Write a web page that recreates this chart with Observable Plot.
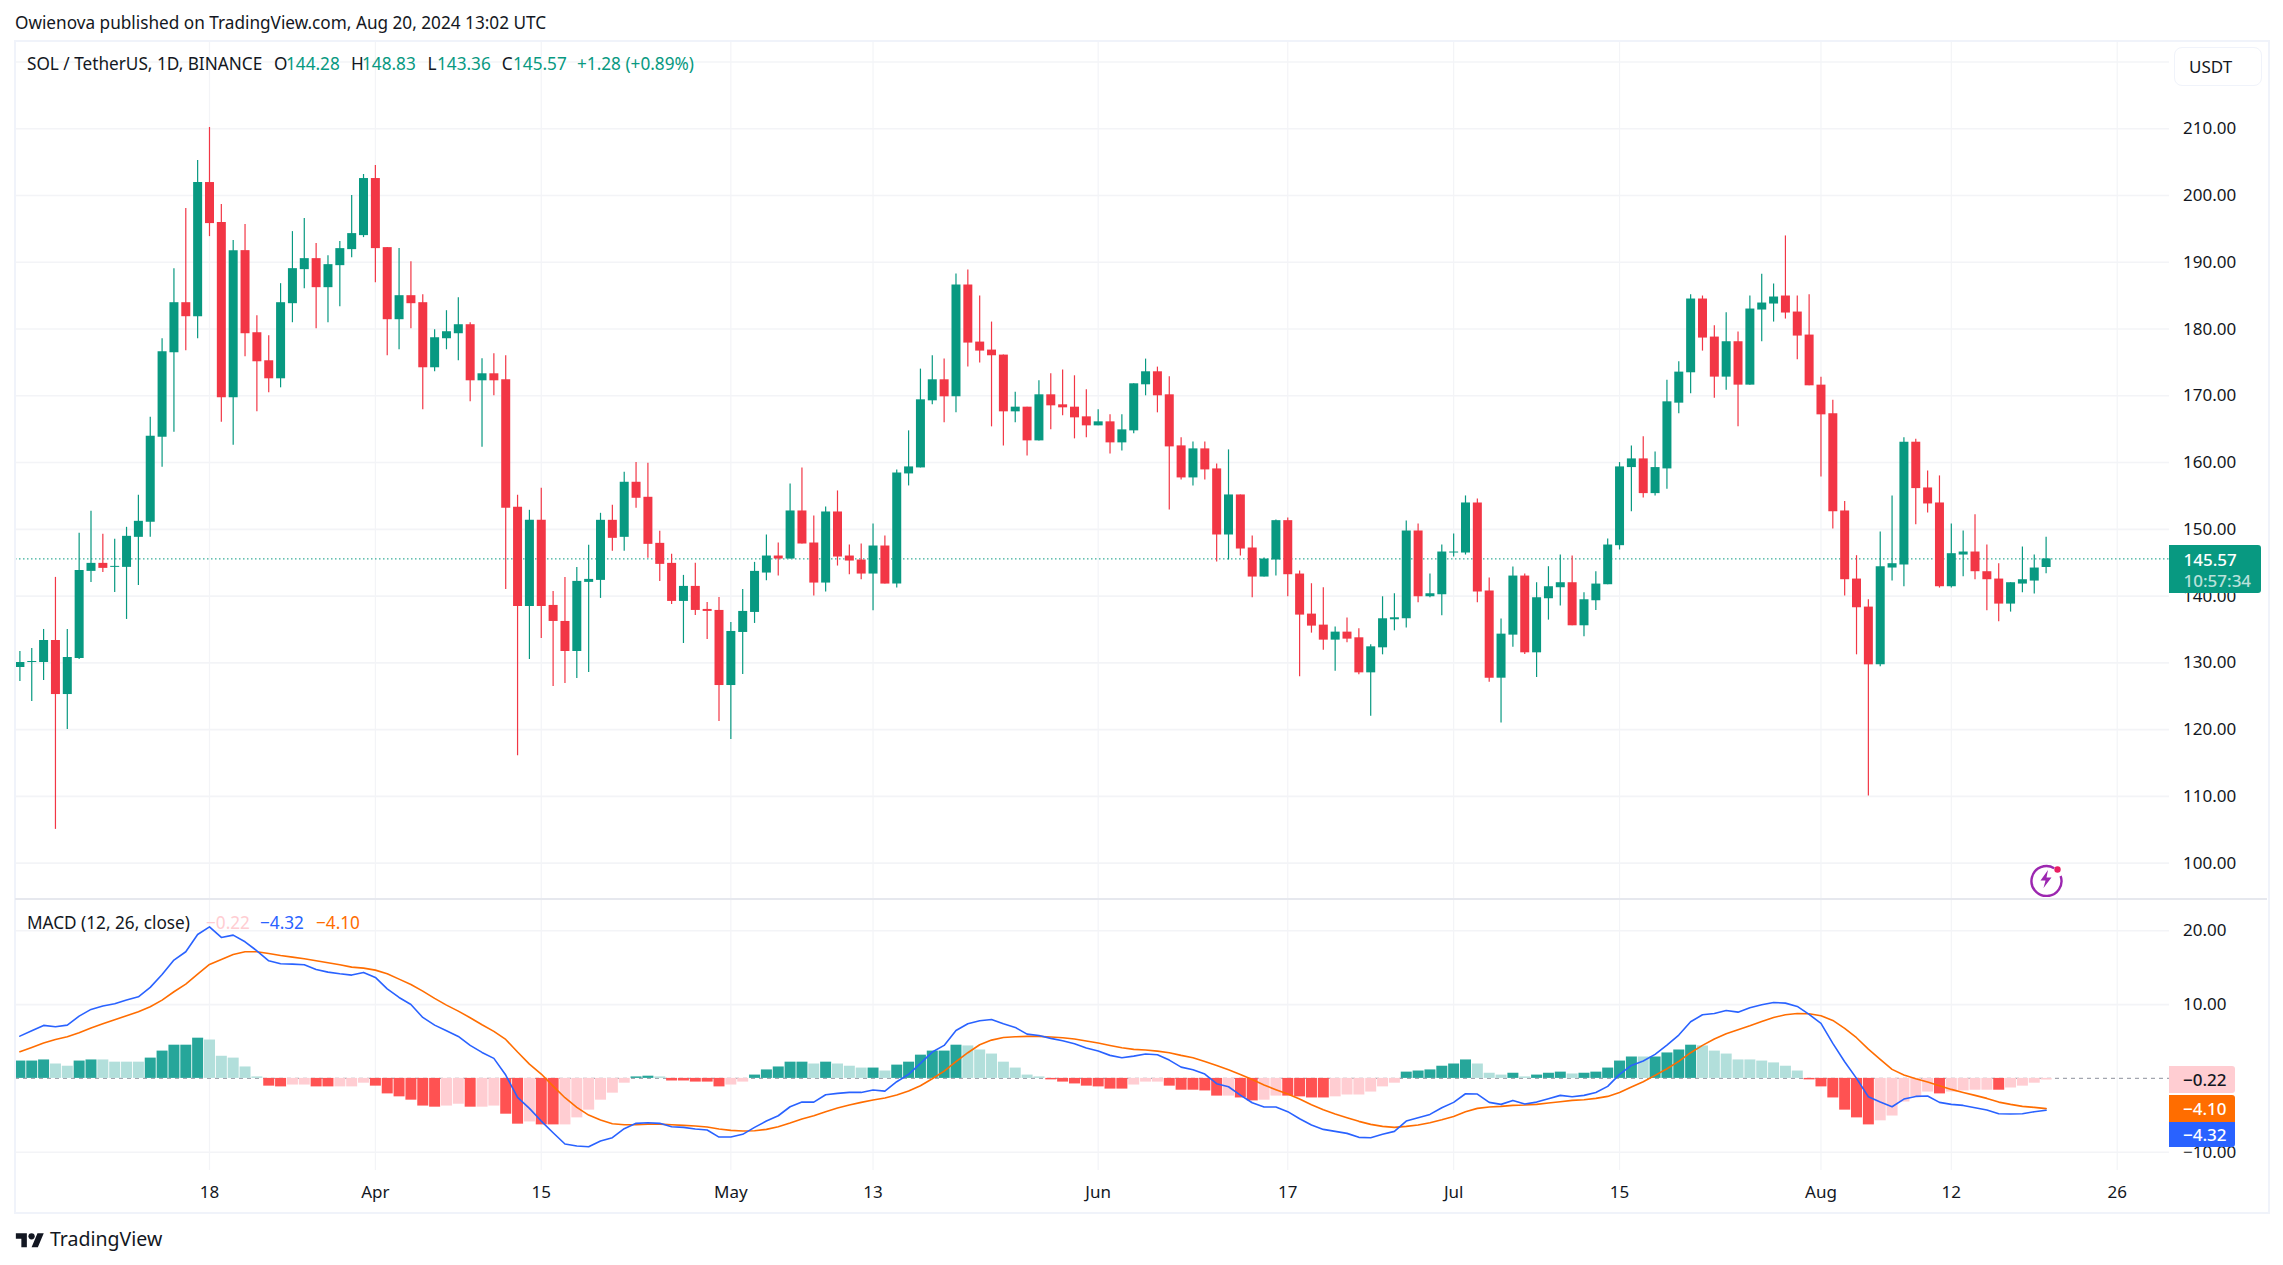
<!DOCTYPE html>
<html>
<head>
<meta charset="utf-8">
<script src="https://cdn.jsdelivr.net/npm/d3@7"></script>
<script src="https://cdn.jsdelivr.net/npm/@observablehq/plot@0.6"></script>
<style>
html,body{margin:0;padding:0;background:#fff;overflow:hidden}
#page{position:relative;width:2283px;height:1265px;font-family:"Noto Sans",sans-serif;color:#131722;font-size:17px;overflow:hidden}
#page svg{position:absolute;left:0}
.t{position:absolute;white-space:nowrap;line-height:1;transform:translateY(-50%)}
</style>
</head>
<body>
<div id="page"></div>
<script>
const openP=[129.3,130.05,130.05,133.35,125.25,130.65,143.7,144.9,144.3,144.3,
148.8,151.05,163.8,176.45,183.95,181.85,201.95,195.95,169.7,191.75,
179.45,175.25,172.55,183.8,188.9,190.55,186.2,189.5,191.9,194,
202.55,192.2,181.4,185,183.95,174.2,178.55,179.3,180.65,172.25,
173.3,172.4,153.3,138.45,151.35,138.6,136.2,131.7,142.05,142.35,
151.35,148.8,157.05,154.8,147.9,144.9,139.2,141.45,138,137.85,
126.6,134.55,137.55,143.45,146,145.55,152.75,147.95,141.95,152.6,
146,145.4,143.3,147.5,141.8,158.3,159.2,169.25,172.4,169.85,
186.6,178.05,176.85,176.1,167.6,168.3,163.25,170.15,168.65,168.3,
166.85,165.5,166.1,162.95,164.75,171.65,173.6,170.15,162.5,157.7,
162.05,159.05,149.15,155.15,147.2,142.85,145.4,151.3,143.3,137.3,
135.65,133.4,134.6,133.75,128.5,132.25,136.45,136.6,149.75,139.9,
140.2,146.45,146.45,153.95,140.75,127.7,134.15,143,131.5,139.6,
141.25,142,135.55,139.3,141.7,147.55,159.25,160.55,155.35,159.05,
168.9,173.45,184.5,178.8,172.8,178.1,171.6,182.85,183.75,184.95,
182.55,179.1,171.6,167.3,152.75,142.55,138.35,129.7,144.2,144.65,
163.05,156.2,153.95,141.4,146.15,146.6,143.65,142.55,138.8,141.8,
142.25,144.28];
const highP=[131.7,132.15,135,142.8,135,149.4,152.7,149.25,148.5,150.3,
155.1,166.8,178.55,189.05,198.05,205.25,210.2,198.65,193.25,195.65,
182,179,186.8,194.6,196.55,192.8,191,193.1,200,203.15,
204.5,192.2,192.05,190.1,185.15,179.9,182.75,184.7,180.95,175.55,
176.3,176,155.1,152.85,156.15,140.7,142.8,144.3,147.6,152.4,
153.6,158.55,160,159.9,149.7,146.25,143.1,144.9,139.05,139.8,
136.05,141,145.05,149.15,147.95,156.8,159.2,152,153.35,155.75,
147.65,147.8,150.8,149,158.9,164.75,174,176,175.5,188.25,
188.85,184.95,181.05,176.1,170.55,168.3,172.25,173.3,173.85,173,
170.9,167.9,167.15,167.15,171.8,175.5,174.3,172.85,163.7,163.1,
163.1,159.8,161.9,155.15,149,145.7,151.4,151.7,143.75,141.85,
141.25,135.35,136.7,135.1,132.7,139.9,140.35,151.25,150.8,143.3,
147.65,149.3,155,154.55,142.7,136.55,144.35,143.3,142,144.4,
146.15,146,140.5,143.65,148.55,160,162.5,163.85,161.6,172.35,
175.1,185.15,184.95,180.5,182.45,179.55,184.95,188.2,186.75,193.95,
184.95,185.15,172.8,169.35,154.15,146.05,139.45,149.6,155,163.7,
163.5,158.75,158,150.8,149.75,152.2,147.65,144.85,142,147.35,
146.15,148.83];
const lowP=[127.2,124.2,127.35,105.05,120,130.5,142.05,143.55,140.55,136.5,
141.6,148.8,159.3,164.55,176.75,178.55,193.85,166.05,162.6,175.85,
167.6,170.45,171.2,180.95,186.05,180.05,180.95,183.35,190.7,193.7,
186.95,176,176.9,180.05,167.9,173.6,176.9,175.25,169.1,162.3,
170,141,116.1,130.5,133.65,126.45,126.9,127.65,128.55,139.65,
146.7,146.7,153.15,145.65,142.2,138.75,132.9,137.1,133.5,121.2,
118.5,128.25,135.9,142.3,143,145.55,147.8,140,140.6,144.5,
143.2,142.45,137.8,141.8,141.2,156.5,159.2,168.65,165.95,167.45,
174.3,174.9,165.35,162.5,165.95,161,163.25,164.9,167,163.55,
163.7,165.5,161.3,161.75,164.3,170,167.45,152.9,157.4,156.5,
157.4,145.1,145.4,146,139.75,142.85,143,139.9,127.9,134.45,
131.9,128.75,133,128.2,122,131.2,134.8,135.2,139,139.75,
137.05,145.85,146.15,139,127.1,121,132.35,131.25,127.8,136.4,
138.5,135.55,133.9,137.85,141.7,146.9,152.65,154.7,155,156,
167.3,170.3,176.7,169.65,170.85,165.35,171.6,178.1,181.05,181.5,
175.4,171.5,157.85,150.05,140,131.2,110.05,129.4,142.25,141.4,
150.7,152.45,141.2,141.2,142.9,142.45,137.8,136.15,137.6,140.5,
140.3,143.36];
const closeP=[130.05,130.2,133.35,125.25,130.8,143.85,144.9,144.15,144.45,148.95,
151.2,163.95,176.6,183.95,181.85,201.95,195.8,169.7,191.75,179.3,
175.1,172.55,183.95,189.05,190.55,186.2,189.65,192.05,194.3,202.55,
192.05,181.4,185,183.8,174.2,178.7,179.6,180.65,172.25,173.3,
172.25,153.15,138.45,151.35,138.45,136.2,131.7,142.2,142.5,151.35,
148.65,157.05,154.65,147.75,144.75,139.2,141.45,137.85,137.7,126.6,
134.7,137.7,143.7,146,145.55,152.75,147.8,141.95,152.6,145.85,
145.25,143.3,147.5,141.8,158.45,159.35,169.4,172.4,169.85,186.6,
177.9,176.7,176,167.6,168.3,163.25,170.15,168.5,168.2,166.7,
165.5,166.1,162.95,164.9,171.8,173.6,170,162.35,157.7,162.05,
158.9,149.15,155.15,147.05,142.85,145.55,151.3,143.2,137.15,135.5,
133.4,134.6,133.55,128.5,132.4,136.6,136.75,149.75,139.9,140.35,
146.6,146.6,153.95,140.6,127.7,134.3,143,131.5,139.75,141.4,
142,135.55,139.45,141.8,147.65,159.35,160.55,155.35,159.25,169.1,
173.55,184.5,178.65,172.8,178.1,171.6,183,183.9,184.8,182.4,
178.95,171.5,167.15,152.65,142.45,138.25,129.7,144.4,144.85,163.05,
156.1,153.8,141.4,146.35,146.6,143.65,142.45,138.8,142,142.45,
144.2,145.57];
const macdLine=[5.73,6.46,7.18,7.0,7.22,8.44,9.35,9.8,10.11,10.61,
11.06,12.33,14.09,16.03,17.16,19.5,20.54,19.1,19.41,18.51,
17.29,15.94,15.53,15.49,15.4,14.76,14.4,14.18,14.0,14.36,
13.68,12.14,10.97,10.02,8.26,7.22,6.46,5.69,4.47,3.52,
2.71,0.45,-2.57,-4.06,-5.78,-7.36,-8.89,-9.16,-9.26,-8.49,
-8.04,-6.82,-6.09,-6.0,-6.09,-6.55,-6.64,-6.86,-7.0,-7.95,
-7.95,-7.58,-6.64,-5.78,-5.06,-3.84,-3.21,-3.21,-2.21,-2.03,
-1.9,-1.9,-1.58,-1.72,-0.45,0.54,2.03,3.57,4.47,6.5,
7.4,7.81,7.99,7.4,6.91,6.0,5.82,5.42,5.1,4.7,
4.11,3.7,3.12,2.8,3.02,3.3,3.21,2.48,1.53,1.17,
0.59,-0.72,-1.13,-2.26,-3.3,-3.88,-3.88,-4.51,-5.46,-6.32,
-6.91,-7.18,-7.45,-7.99,-8.04,-7.58,-7.18,-5.78,-5.33,-4.88,
-3.97,-3.25,-2.08,-2.12,-3.25,-3.52,-2.98,-3.48,-3.21,-2.75,
-2.3,-2.48,-2.3,-1.9,-1.08,0.54,1.76,2.35,3.25,4.51,
5.87,7.67,8.62,8.8,9.21,8.98,9.57,9.98,10.29,10.2,
9.75,8.67,7.45,4.74,2.26,0,-2.48,-3.21,-3.84,-2.8,
-2.44,-2.39,-3.25,-3.52,-3.66,-3.97,-4.29,-4.79,-4.83,-4.79,
-4.51,-4.32];
const signalLine=[3.61,4.2,4.79,5.28,5.64,6.19,6.82,7.4,7.95,8.49,
9.03,9.71,10.61,11.74,12.78,14.13,15.44,16.12,16.79,17.16,
17.16,16.93,16.66,16.43,16.21,15.94,15.67,15.4,15.08,14.94,
14.67,14.18,13.45,12.73,11.83,10.84,9.93,9.12,8.22,7.27,
6.37,5.28,3.57,1.94,0.59,-1.04,-2.62,-3.93,-4.97,-5.64,
-6.14,-6.28,-6.28,-6.19,-6.19,-6.28,-6.37,-6.46,-6.59,-6.86,
-7.04,-7.13,-7.09,-6.91,-6.55,-6.05,-5.51,-5.06,-4.51,-4.02,
-3.61,-3.25,-2.93,-2.66,-2.26,-1.72,-0.99,-0.05,0.99,2.26,
3.48,4.56,5.19,5.55,5.64,5.69,5.69,5.6,5.51,5.33,
5.06,4.79,4.47,4.15,3.93,3.84,3.7,3.48,3.12,2.8,
2.3,1.76,1.17,0.54,-0.14,-0.9,-1.53,-2.12,-2.8,-3.57,
-4.24,-4.83,-5.33,-5.82,-6.23,-6.5,-6.64,-6.5,-6.32,-6.0,
-5.6,-5.15,-4.51,-4.06,-3.88,-3.79,-3.66,-3.61,-3.52,-3.34,
-3.16,-2.98,-2.89,-2.71,-2.44,-1.9,-1.17,-0.45,0.41,1.31,
2.3,3.48,4.47,5.33,6.05,6.59,7.13,7.72,8.26,8.62,
8.8,8.76,8.49,7.86,6.77,5.51,3.97,2.57,1.22,0.45,
-0.05,-0.5,-0.99,-1.49,-1.9,-2.3,-2.71,-3.21,-3.52,-3.79,
-3.93,-4.10];
const histValues=[2.35,2.35,2.5,1.95,1.65,2.35,2.5,2.5,2.2,2.2,
2.2,2.75,3.7,4.5,4.5,5.45,5.2,3.0,2.75,1.55,
0.2,-1.05,-1.15,-0.9,-0.9,-1.15,-1.15,-1.15,-1.15,-0.65,
-1.05,-2.1,-2.5,-2.95,-3.75,-3.9,-3.75,-3.5,-3.9,-3.9,
-3.75,-4.85,-6.2,-5.9,-6.3,-6.3,-6.3,-5.35,-4.3,-2.95,
-2,-0.65,0.2,0.3,0.2,-0.35,-0.35,-0.5,-0.5,-1.15,
-0.9,-0.5,0.45,1.15,1.55,2.2,2.2,1.95,2.2,1.95,
1.65,1.4,1.4,1.0,1.8,2.2,3.15,3.7,3.7,4.5,
4.4,3.85,3.3,2.2,1.4,0.45,0.2,-0.2,-0.5,-0.75,
-1.05,-1.15,-1.45,-1.45,-0.9,-0.5,-0.5,-1.05,-1.6,-1.6,
-1.7,-2.4,-2.4,-2.65,-3.05,-2.95,-2.4,-2.4,-2.5,-2.65,
-2.65,-2.5,-2.25,-2.25,-1.85,-1.15,-0.65,0.85,1.0,1.15,
1.65,1.95,2.5,1.95,0.7,0.45,0.7,0.2,0.45,0.7,
0.85,0.6,0.7,0.85,1.4,2.35,2.9,2.9,2.9,3.45,
3.85,4.5,4.4,3.7,3.3,2.5,2.5,2.35,2.1,1.65,
1.0,-0.2,-1.15,-2.65,-4.3,-5.35,-6.3,-5.75,-5.1,-3.2,
-2.5,-1.85,-2.1,-1.85,-1.7,-1.6,-1.6,-1.6,-1.3,-1.05,
-0.65,-0.22];
const histTones=("dddllddlll"+"ldddddllll"+"lddllddlll"+"ddddddlldl"+"lddlddllll"+
"llddlddddd"+"lldddddldl"+"lldldddddd"+"lllllllddd"+"ddddlllddd"+
"ddlddllddd"+"dllllllddd"+"dddllldldd"+"dldddddldd"+"ddllllllll"+
"lddddddlll"+"lldlllldll"+"ll").split("");
const tickDates=["2024-03-18","2024-04-01","2024-04-15","2024-05-01","2024-05-13","2024-06-01","2024-06-17","2024-07-01","2024-07-15","2024-08-01","2024-08-12","2024-08-26"];
const tickLabels=["18","Apr","15","May","13","Jun","17","Jul","15","Aug","12","26"];
const priceTicks=[100,110,120,130,140,150,160,170,180,190,200,210];
const priceGrid=[100,110,120,130,140,150,160,170,180,190,200,210,220];
const macdTicks=[-10,10,20];
const lastPrice=145.57;

const GREEN="#089981",RED="#f23645",GRID="#f3f4f7",INK="#131722";
const day=i=>new Date(Date.UTC(2024,2,2+i));
const ticks=tickDates.map(d=>new Date(d+"T00:00:00Z"));
const candles=openP.map((o,i)=>({date:day(i),o,h:highP[i],l:lowP[i],c:closeP[i],col:closeP[i]>=o?GREEN:RED}));
const macdRows=histValues.map((v,i)=>({date:day(i),v,m:macdLine[i],s:signalLine[i],
  col:v>=0?(histTones[i]==="d"?"#26a69a":"#b2dfdb"):(histTones[i]==="d"?"#ff5252":"#ffcdd2")}));

const xOpts={type:"utc",domain:[day(0),ticks[ticks.length-1]],range:[19.4,2116.7]};
const fmt=d3.format(".2f");
const baseStyle={fontFamily:'"Noto Sans",sans-serif',fontSize:"17px",color:INK,background:"transparent"};

const main=Plot.plot({
  width:2283,height:899,marginLeft:15,marginRight:114,marginTop:41,marginBottom:0,style:baseStyle,
  x:{...xOpts,axis:null},
  y:{domain:[100,210],range:[862.6,128.3]},
  marks:[
    Plot.ruleX(ticks,{stroke:GRID,strokeWidth:1.2}),
    Plot.ruleY(priceGrid,{stroke:GRID,strokeWidth:1.6}),
    Plot.ruleY([lastPrice],{stroke:GREEN,strokeWidth:1,strokeDasharray:"1.5 2.5"}),
    Plot.ruleX(candles,{x:"date",y1:"l",y2:"h",stroke:"col",strokeWidth:1.2,clip:"frame"}),
    Plot.ruleX(candles,{x:"date",y1:"o",y2:"c",stroke:"col",strokeWidth:9,clip:"frame"}),
    Plot.axisY(priceTicks,{anchor:"right",tickSize:0,tickPadding:13.5,tickFormat:fmt,label:null,fill:INK})
  ]
});
main.style.top="0px";

const macd=Plot.plot({
  width:2283,height:313,marginLeft:15,marginRight:114,marginTop:0,marginBottom:42,style:baseStyle,
  x:{...xOpts},
  y:{domain:[-10,20],range:[252.7,31.3]},
  marks:[
    Plot.ruleX(ticks,{stroke:GRID,strokeWidth:1.2}),
    Plot.ruleY(macdTicks,{stroke:GRID,strokeWidth:1.6}),
    Plot.ruleY([0],{stroke:"#a3a6af",strokeWidth:1.4,strokeDasharray:"4 4"}),
    Plot.ruleX(macdRows,{x:"date",y1:0,y2:"v",stroke:"col",strokeWidth:11,clip:"frame"}),
    Plot.line(macdRows,{x:"date",y:"s",stroke:"#ff6d00",strokeWidth:1.6,clip:"frame"}),
    Plot.line(macdRows,{x:"date",y:"m",stroke:"#2962ff",strokeWidth:1.6,clip:"frame"}),
    Plot.axisX(ticks,{anchor:"bottom",tickSize:0,tickPadding:15.5,label:null,fill:INK,
      tickFormat:d=>tickLabels[ticks.findIndex(t=>+t===+d)]}),
    Plot.axisY(macdTicks,{anchor:"right",tickSize:0,tickPadding:13.5,label:null,fill:INK,
      tickFormat:d=>fmt(d).replace("-","\u2212")})
  ]
});
macd.style.top="899px";

const page=document.getElementById("page");
page.append(main,macd);

function text(str,x,y,opts={}){
  const s=document.createElement("div");
  s.className="t";s.textContent=str;
  s.style.left=x+"px";s.style.top=y+"px";
  Object.assign(s.style,opts);
  page.append(s);return s;
}
function box(x,y,w,h,css){
  const d=document.createElement("div");
  d.style.position="absolute";d.style.left=x+"px";d.style.top=y+"px";d.style.width=w+"px";d.style.height=h+"px";
  Object.assign(d.style,css);page.append(d);return d;
}
const FS="17.2px";
// frame and pane divider
box(14,40,2252,1170,{border:"2px solid #f0f3fa"});
box(15,898,2252,2,{background:"#e6e8ee"});
// header
text("Owienova published on TradingView.com, Aug 20, 2024 13:02 UTC",15,23,{fontSize:FS});
// symbol legend
text("SOL / TetherUS, 1D, BINANCE",27,64,{fontSize:FS});
[["O",274],["H",351],["L",427.5],["C",501.7]].forEach(([k,x])=>text(k,x,64,{fontSize:FS}));
[["144.28",286],["148.83",362],["143.36",437],["145.57",513],["+1.28 (+0.89%)",577]].forEach(([k,x])=>text(k,x,64,{fontSize:FS,color:GREEN}));
// MACD legend
text("MACD (12, 26, close)",27,923,{fontSize:FS});
text("\u22120.22",206,923,{fontSize:FS,color:"#ffcdd2"});
text("\u22124.32",260,923,{fontSize:FS,color:"#2962ff"});
text("\u22124.10",316,923,{fontSize:FS,color:"#ff6d00"});
// USDT button
box(2174,46.5,86,37,{border:"1.5px solid #f0f3fa",borderRadius:"8px",background:"#fff"});
text("USDT",2189,65.5,{fontSize:"17px"});
// last price tag
box(2169,545,91.5,48,{background:GREEN,borderRadius:"0 3px 3px 0"});
text("145.57",2183.5,559,{color:"#fff",fontSize:"17px",fontWeight:"500"});
text("10:57:34",2183.5,580,{color:"rgba(255,255,255,.72)",fontSize:"17px",fontWeight:"500"});
// MACD value tags
box(2169,1066,66,27,{background:"#ffcdd2",borderRadius:"0 3px 3px 0"});
text("\u22120.22",2183,1079,{fontSize:"17px",fontWeight:"500"});
box(2169,1095,66,27,{background:"#ff6d00",borderRadius:"0 3px 0 0"});
text("\u22124.10",2183,1108,{color:"#fff",fontSize:"17px",fontWeight:"500"});
box(2169,1122,66,25,{background:"#2962ff",borderRadius:"0 0 3px 0"});
text("\u22124.32",2183,1134,{color:"#fff",fontSize:"17px",fontWeight:"500"});
// bolt badge and logo
const ns=document.createElement("div");
ns.innerHTML=`<svg style="left:2028px;top:860.5px" width="36" height="36" viewBox="0 0 36 36">
<path d="M26.2 7.2A15 15 0 1 0 32.6 15" fill="none" stroke="#9c27b0" stroke-width="2.4"/>
<path d="M20 9 L12.5 19.5 H17.5 L15.5 27 L23.5 16.5 H18.5 Z" fill="#9c27b0"/>
<circle cx="29.5" cy="8.5" r="3.2" fill="#e91e63"/></svg>
<svg style="left:15px;top:1230px" width="30" height="22" viewBox="0 0 36 28">
<path d="M14 22H7V11H0V4h14v18zM28 22h-8l7.5-18h8L28 22z" fill="${INK}"/><circle cx="20" cy="8" r="4" fill="${INK}"/></svg>`;
page.append(ns);
text("TradingView",50,1239,{fontSize:"19.5px"});
</script>
</body>
</html>
